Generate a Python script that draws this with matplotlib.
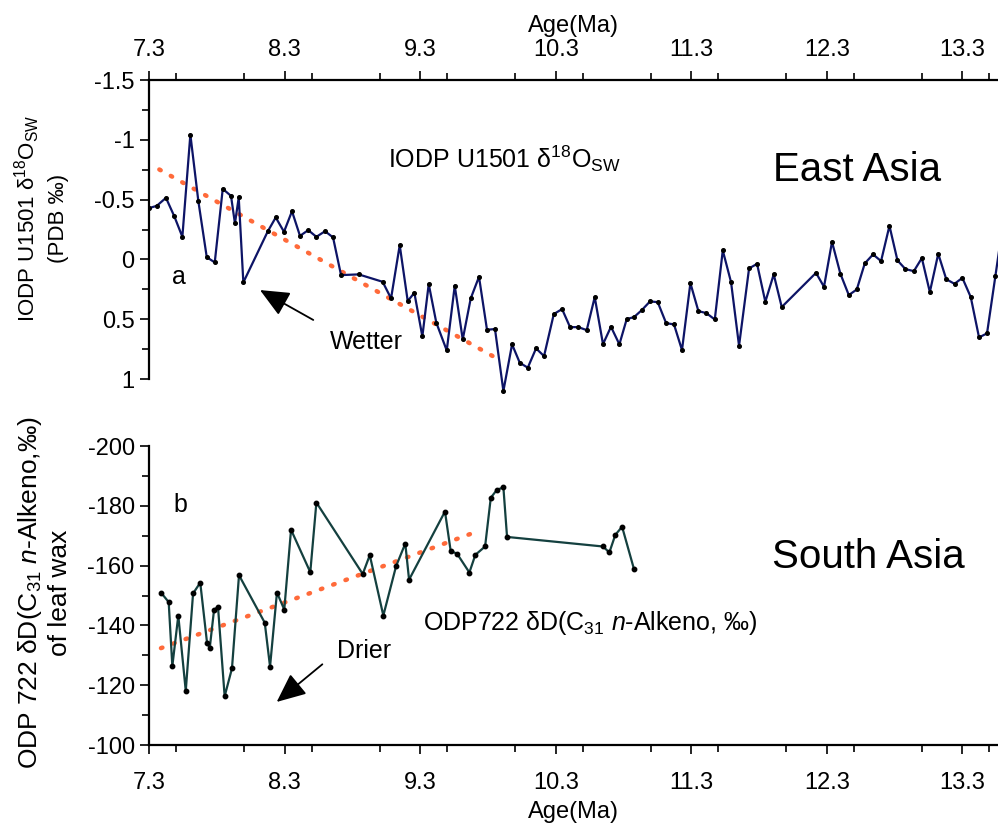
import matplotlib
matplotlib.use("Agg")
import matplotlib.pyplot as plt
from matplotlib.ticker import MultipleLocator

plt.rcParams['font.family'] = ['Liberation Sans', 'DejaVu Sans']
plt.rcParams['mathtext.fontset'] = 'custom'
plt.rcParams['mathtext.rm'] = 'Liberation Sans'
plt.rcParams['mathtext.it'] = 'Liberation Sans:italic'
plt.rcParams['mathtext.bf'] = 'Liberation Sans:bold'

# ---- Data: IODP U1501 d18O_sw (top panel) ----
age_u1501 = [7.30, 7.355, 7.423, 7.485, 7.544, 7.603, 7.662, 7.724, 7.783, 7.842,
             7.903, 7.932, 7.960, 7.994, 8.174, 8.233, 8.294, 8.353, 8.412, 8.473,
             8.533, 8.597, 8.656, 8.715, 8.845, 9.022, 9.084, 9.148, 9.207, 9.256,
             9.315, 9.362, 9.418, 9.495, 9.554, 9.613, 9.672, 9.733, 9.792, 9.851,
             9.913, 9.977, 10.034, 10.093, 10.154, 10.213, 10.285, 10.346, 10.405, 10.466,
             10.528, 10.587, 10.648, 10.707, 10.769, 10.823, 10.877, 10.934, 10.995, 11.052,
             11.114, 11.172, 11.231, 11.293, 11.352, 11.411, 11.473, 11.532, 11.593, 11.652,
             11.726, 11.785, 11.846, 11.908, 11.967, 12.220, 12.279, 12.338, 12.400, 12.462,
             12.521, 12.580, 12.641, 12.700, 12.762, 12.821, 12.880, 12.942, 13.001, 13.060,
             13.122, 13.181, 13.242, 13.300, 13.362, 13.423, 13.482, 13.544, 13.60]
d18o_sw = [-0.43, -0.448, -0.515, -0.359, -0.189, -1.044, -0.487, -0.019, 0.025, -0.590,
           -0.531, -0.301, -0.518, 0.192, -0.234, -0.351, -0.231, -0.403, -0.197, -0.245,
           -0.189, -0.236, -0.184, 0.131, 0.125, 0.187, 0.326, -0.119, 0.348, 0.279,
           0.644, 0.206, 0.529, 0.761, 0.220, 0.669, 0.326, 0.145, 0.588, 0.582,
           1.100, 0.710, 0.864, 0.905, 0.744, 0.808, 0.457, 0.415, 0.566, 0.566,
           0.591, 0.315, 0.708, 0.563, 0.710, 0.499, 0.482, 0.424, 0.351, 0.357,
           0.533, 0.543, 0.758, 0.198, 0.432, 0.449, 0.502, -0.075, 0.190, 0.722,
           0.075, 0.037, 0.354, 0.125, 0.398, 0.112, 0.229, -0.147, 0.120, 0.298,
           0.251, 0.033, -0.042, 0.014, -0.281, 0.008, 0.081, 0.098, -0.011, 0.273,
           -0.047, 0.165, 0.204, 0.154, 0.315, 0.652, 0.618, 0.137, -0.30]
trend_a_age = [7.374, 9.834]
trend_a_val = [-0.752, 0.808]

# ---- Data: ODP 722 dD leaf wax (bottom panel) ----
age_odp722 = [7.386, 7.443, 7.470, 7.514, 7.569, 7.623, 7.676, 7.726, 7.746, 7.778,
              7.807, 7.856, 7.910, 7.962, 8.152, 8.191, 8.242, 8.296, 8.346, 8.488,
              8.533, 8.875, 8.927, 9.027, 9.121, 9.189, 9.217, 9.482, 9.524, 9.571,
              9.662, 9.706, 9.778, 9.820, 9.864, 9.913, 9.940, 10.648, 10.695, 10.739,
              10.789, 10.877]
dD_wax = [-151.0, -147.8, -126.4, -143.3, -118.1, -150.7, -154.3, -134.2, -132.4, -145.3,
          -146.2, -116.3, -125.6, -156.8, -140.9, -126.2, -151.0, -145.3, -172.0, -157.8,
          -181.1, -157.2, -163.5, -143.3, -159.8, -167.4, -155.3, -178.1, -164.9, -164.0,
          -157.7, -163.6, -166.4, -182.7, -185.3, -186.2, -169.6, -166.4, -164.4, -170.3,
          -173.0, -158.8]
trend_b_age = [7.386, 9.706]
trend_b_val = [-132.4, -171.2]

x_ticks = [7.3, 8.3, 9.3, 10.3, 11.3, 12.3, 13.3]
x_tick_labels = ["7.3", "8.3", "9.3", "10.3", "11.3", "12.3", "13.3"]
ya_ticks = [-1.5, -1, -0.5, 0, 0.5, 1]
ya_tick_labels = ["-1.5", "-1", "-0.5", "0", "0.5", "1"]
yb_ticks = [-200, -180, -160, -140, -120, -100]
yb_tick_labels = ["-200", "-180", "-160", "-140", "-120", "-100"]

navy = "#0d1466"
teal = "#14403f"
orange = "#ff6a3a"
tick_fs = 17

fig = plt.figure(figsize=(9.98, 8.30), dpi=100)
ax1 = fig.add_axes([0.1496, 0.5217, 0.8504, 0.3819])
ax2 = fig.add_axes([0.1496, 0.1024, 0.8504, 0.3602])

for ax in (ax1, ax2):
    ax.set_xlim(7.3, 13.563)
    ax.patch.set_alpha(0)
    for s in ax.spines.values():
        s.set_linewidth(1.6)
    ax.xaxis.set_minor_locator(MultipleLocator(0.5))
    ax.tick_params(which='major', length=6.5, width=1.2, labelsize=tick_fs, direction='out', pad=4)
    ax.tick_params(which='minor', length=5, width=1.2, direction='out')

# ---- Top panel ----
ax1.plot(age_u1501, d18o_sw, color=navy, lw=1.6, marker='o', ms=2.6,
         mfc='black', mec='black', zorder=3)
ax1.plot(trend_a_age, trend_a_val, color=orange, lw=3.2,
         linestyle=(0, (0.35, 2.6)), dash_capstyle='round', zorder=2)
ax1.set_ylim(1.15, -1.5)
ax1.spines['bottom'].set_visible(False)
ax1.spines['right'].set_visible(False)
ax1.spines['left'].set_bounds(-1.5, 1)
ax1.xaxis.tick_top()
ax1.xaxis.set_label_position('top')
ax1.set_xticks(x_ticks)
ax1.set_xticklabels(x_tick_labels)
ax1.tick_params(axis='x', which='major', pad=7)
ax1.set_yticks(ya_ticks)
ax1.set_yticklabels(ya_tick_labels)
ax1.yaxis.set_minor_locator(MultipleLocator(0.25))
ax1.set_xlabel("Age(Ma)", fontsize=17, labelpad=5)

ax1.text(7.519, 0.148, "a", fontsize=18, ha='center', va='center')
ax1.text(9.062, -0.846, "IODP U1501 δ$^{18}$O$_{\\mathrm{SW}}$", fontsize=18, ha='left', va='center')
ax1.text(12.52, -0.745, "East Asia", fontsize=29, ha='center', va='center')
ax1.text(8.634, 0.688, "Wetter", fontsize=18, ha='left', va='center')
ax1.annotate("", xy=(8.117, 0.256), xytext=(8.510, 0.506),
             arrowprops=dict(arrowstyle='-|>,head_length=0.9,head_width=0.4', color='black',
                             lw=1.3, mutation_scale=20, shrinkA=0, shrinkB=0))

# ---- Bottom panel ----
ax2.plot(age_odp722, dD_wax, color=teal, lw=1.6, marker='o', ms=3.2,
         mfc='black', mec='black', zorder=3)
ax2.plot(trend_b_age, trend_b_val, color=orange, lw=3.2,
         linestyle=(0, (0.35, 2.6)), dash_capstyle='round', zorder=2)
ax2.set_ylim(-100, -200)
ax2.spines['top'].set_visible(False)
ax2.spines['right'].set_visible(False)
ax2.set_xticks(x_ticks)
ax2.set_xticklabels(x_tick_labels)
ax2.tick_params(axis='x', which='major', pad=13)
ax2.set_yticks(yb_ticks)
ax2.set_yticklabels(yb_tick_labels)
ax2.yaxis.set_minor_locator(MultipleLocator(10))
ax2.set_xlabel("Age(Ma)", fontsize=17, labelpad=5)

ax2.text(7.527, -180.3, "b", fontsize=18, ha='center', va='center')
ax2.text(12.61, -163.0, "South Asia", fontsize=29, ha='center', va='center')
ax2.text(8.684, -131.4, "Drier", fontsize=18, ha='left', va='center')
ax2.text(9.318, -140.7, "ODP722 δD(C$_{31}$ $n$-Alkeno, ‰)", fontsize=18, ha='left', va='center')
ax2.annotate("", xy=(8.240, -114.4), xytext=(8.577, -127.0),
             arrowprops=dict(arrowstyle='-|>,head_length=0.9,head_width=0.4', color='black',
                             lw=1.3, mutation_scale=20, shrinkA=0, shrinkB=0))

# ---- Y labels (two lines each) ----
fig.text(41 / 998, 1 - 218 / 830, "IODP U1501 δ$^{18}$O$_{\\mathrm{SW}}$\n(PDB ‰)",
         rotation=90, ha='center', va='center', multialignment='center',
         fontsize=16, linespacing=1.4)
fig.text(44 / 998, 1 - 593 / 830, "ODP 722 δD(C$_{31}$ $n$-Alkeno,‰)\nof leaf wax",
         rotation=90, ha='center', va='center', multialignment='center',
         fontsize=19, linespacing=1.2)

fig.savefig("out.png", dpi=100)
